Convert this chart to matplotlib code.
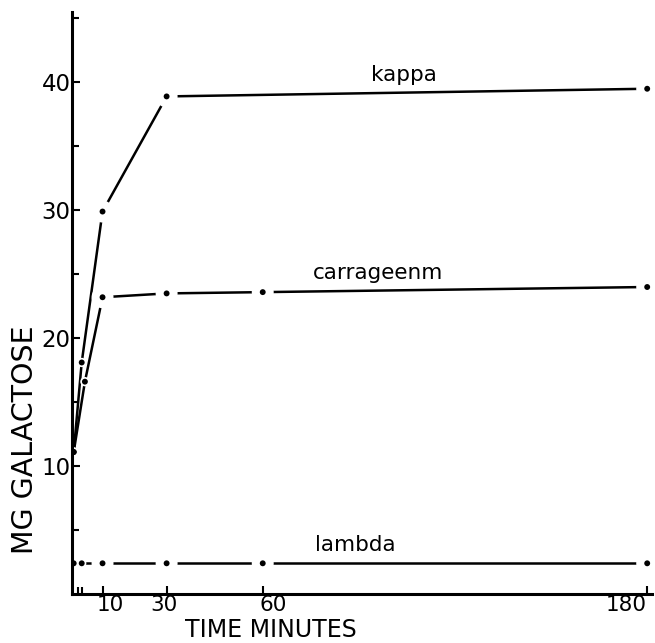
import matplotlib
matplotlib.use("Agg")
import matplotlib.pyplot as plt
from matplotlib.transforms import ScaledTranslation

# Data
kappa_t = [1, 3.5, 10, 30, 180]
kappa_v = [11.1, 18.1, 29.9, 38.9, 39.5]

carr_t = [1, 4.5, 10, 30, 60, 180]
carr_v = [11.1, 16.6, 23.2, 23.5, 23.6, 24.0]

lambda_t = [1, 3.5, 10, 30, 60, 180]
lambda_v = [2.4, 2.4, 2.4, 2.4, 2.4, 2.4]

x_ticks = [10, 30, 60, 180]
x_minor = [2.3, 3.6]
y_ticks = [10, 20, 30, 40]
y_minor = [5, 15, 25, 35, 45]

series = [
    ("kappa", kappa_t, kappa_v, (104, 40.6)),
    ("carrageenm", carr_t, carr_v, (96, 25.1)),
    ("lambda", lambda_t, lambda_v, (89, 3.8)),
]

fig = plt.figure(figsize=(6.55, 6.43), dpi=100)
ax = fig.add_axes([72 / 655, (643 - 594) / 643, (652 - 72) / 655, (594 - 12) / 643])

for name, t, v, (lx, ly) in series:
    ax.plot(t, v, color="black", lw=1.8, solid_capstyle="butt", zorder=2)
    gaps = [250 if ti >= 10 else 45 for ti in t]
    ax.scatter(t, v, s=gaps, c="white", edgecolors="none", zorder=2.2)
    ax.scatter(t, v, s=18, c="black", edgecolors="none", zorder=2.4)
    ax.text(lx, ly, name, fontsize=15.5, ha="center", va="center", color="black")

ax.set_xlim(0.47, 181.5)
ax.set_ylim(0, 45.5)

for s in ["top", "right"]:
    ax.spines[s].set_visible(False)
for s in ["left", "bottom"]:
    ax.spines[s].set_linewidth(2.2)
    ax.spines[s].set_zorder(3)

ax.set_xticks(x_ticks)
ax.set_xticklabels([str(x) for x in x_ticks])
ax.set_xticks(x_minor, minor=True)
ax.set_yticks(y_ticks)
ax.set_yticklabels([str(y) for y in y_ticks])
ax.set_yticks(y_minor, minor=True)

ax.tick_params(axis="both", which="major", direction="in", length=6, width=1.5,
               labelsize=16.5, pad=1)
ax.tick_params(axis="x", which="major", labelsize=15.5, pad=1)
ax.tick_params(axis="both", which="minor", direction="in", length=5, width=1.5)

# hand-lettered offsets of the x tick labels (pixels)
x_label_shift = [8, -3, 10, -21]
for lab, dx in zip(ax.get_xticklabels(), x_label_shift):
    lab.set_transform(lab.get_transform() + ScaledTranslation(dx / 100, 0, fig.dpi_scale_trans))

fig.text(271 / 655, 1 - 630 / 643, "TIME MINUTES", fontsize=17, ha="center", va="center")
fig.text(25 / 655, 1 - 440 / 643, "MG GALACTOSE", fontsize=20.5, ha="center", va="center",
         rotation=90)

fig.savefig("out.png", dpi=100, facecolor="white")
